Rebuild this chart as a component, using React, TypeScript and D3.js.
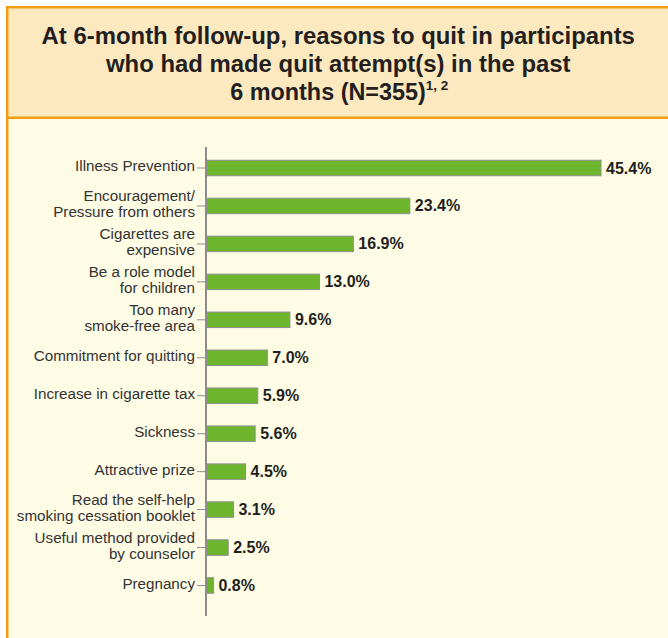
import React from "react";
import * as d3 from "d3";

const categories: string[] = [
  "Illness Prevention",
  "Encouragement/\nPressure from others",
  "Cigarettes are\nexpensive",
  "Be a role model\nfor children",
  "Too many\nsmoke-free area",
  "Commitment for quitting",
  "Increase in cigarette tax",
  "Sickness",
  "Attractive prize",
  "Read the self-help\nsmoking cessation booklet",
  "Useful method provided\nby counselor",
  "Pregnancy",
];
const values: number[] = [45.4, 23.4, 16.9, 13.0, 9.6, 7.0, 5.9, 5.6, 4.5, 3.1, 2.5, 0.8];
const titleLines: string[] = [
  "At 6-month follow-up, reasons to quit in participants",
  "who had made quit attempt(s) in the past",
  "6 months (N=355)",
];
const titleSup = "1, 2";

const W = 668;
const H = 638;
const FONT = "'Liberation Sans', Arial, Helvetica, sans-serif";
const ORANGE = "#F39C12";
const HEADER_BG = "#FDE9BF";
const BODY_BG = "#FFFCE6";
const GREEN = "#6CB52D";

export default function App() {
  const x = d3.scaleLinear().domain([0, 50]).range([206.5, 641]);
  const y = d3.scalePoint<string>().domain(categories).range([168, 585.5]);
  const barH = 15.5;
  const axisX = 206;
  const cx = (8.5 + W) / 2;

  return (
    <div style={{ position: "fixed", left: 0, top: 0 }}>
      <svg width={W} height={H} style={{ display: "block" }}>
        <rect x={0} y={0} width={W} height={H} fill="#ffffff" />
        <rect x={6} y={6} width={W} height={H} fill={ORANGE} />
        <rect x={8.5} y={8.5} width={W} height={108} fill={HEADER_BG} />
        <rect x={8.5} y={119} width={W} height={H} fill={BODY_BG} />

        <g fontFamily={FONT} fontWeight="bold" fill="#231f20" textAnchor="middle">
          <text x={cx} y={44} fontSize={23.9}>{titleLines[0]}</text>
          <text x={cx} y={72} fontSize={23.9}>{titleLines[1]}</text>
          <text x={cx + 1} y={100} fontSize={23.4}>
            {titleLines[2]}
            <tspan fontSize={13.5} dy={-10}>{titleSup}</tspan>
          </text>
        </g>

        {/* bars */}
        {categories.map((c, i) => {
          const cy = y(c)!;
          return (
            <g key={c}>
              <rect
                x={x(0)}
                y={cy - barH / 2}
                width={x(values[i]) - x(0)}
                height={barH}
                fill={GREEN}
                stroke="#8f8f8f"
                strokeWidth={1}
              />
              <text
                x={x(values[i]) + 5}
                y={cy + 5.5}
                fontFamily={FONT}
                fontWeight="bold"
                fontSize={16}
                fill="#231f20"
              >
                {d3.format(".1f")(values[i])}%
              </text>
            </g>
          );
        })}

        {/* axis */}
        <line x1={axisX} x2={axisX} y1={147} y2={616} stroke="#8c8c8c" strokeWidth={2} />
        {categories.map((c) => {
          const cy = y(c)!;
          const lines = c.split("\n");
          return (
            <g key={"t" + c}>
              <line x1={197} x2={205} y1={cy} y2={cy} stroke="#8c8c8c" strokeWidth={1} />
              <text
                x={195}
                textAnchor="end"
                fontFamily={FONT}
                fontSize={15.2}
                fill="#333333"
              >
                {lines.length === 1 ? (
                  <tspan x={195} y={cy + 3}>{lines[0]}</tspan>
                ) : (
                  lines.map((l, k) => (
                    <tspan key={k} x={195} y={cy - 4.5 + k * 15.5}>{l}</tspan>
                  ))
                )}
              </text>
            </g>
          );
        })}
      </svg>
    </div>
  );
}
